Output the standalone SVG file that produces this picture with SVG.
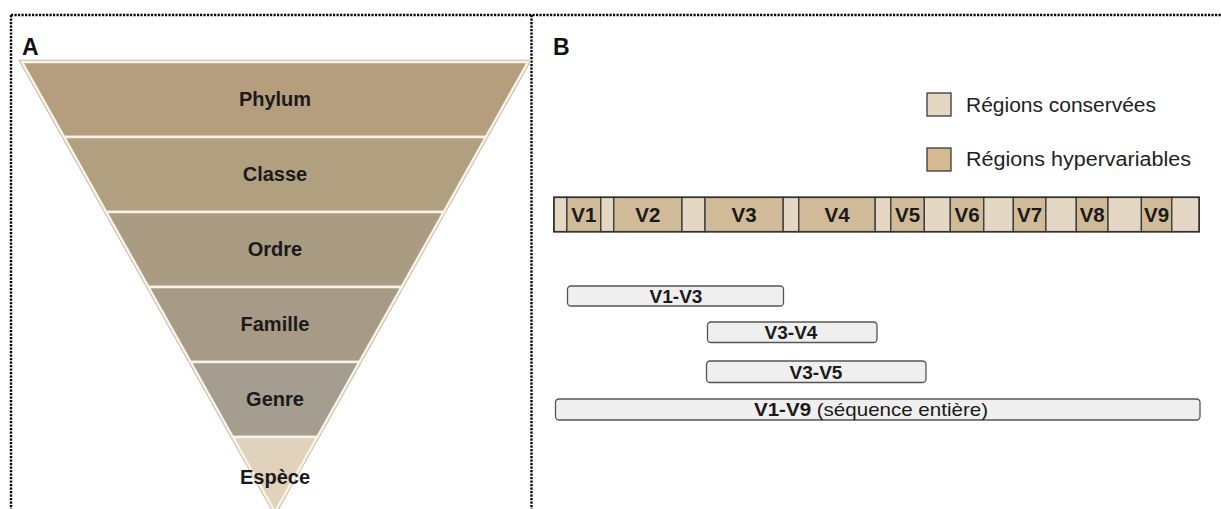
<svg xmlns="http://www.w3.org/2000/svg" width="1221" height="509" viewBox="0 0 1221 509">
<style>
.frame{fill:none;stroke:#000;stroke-width:2.4;stroke-dasharray:2.2 1.3}
.band{stroke:#f8f3e6;stroke-width:2.5;stroke-linejoin:miter}
.lbl{font-family:"Liberation Sans",Arial,sans-serif;font-weight:bold;font-size:20px;fill:#1a1a1a;text-anchor:middle}
.panel{font-family:"Liberation Sans",Arial,sans-serif;font-weight:bold;font-size:23px;fill:#111}
.cons{fill:#e4d7c4;stroke:#3a3a3a;stroke-width:1.3}
.hyp{fill:#d1ba97;stroke:#3a3a3a;stroke-width:1.3}
.vl{font-family:"Liberation Sans",Arial,sans-serif;font-weight:bold;font-size:20.5px;fill:#1a1a1a;text-anchor:middle}
.leg{font-family:"Liberation Sans",Arial,sans-serif;font-size:20px;fill:#222}
.pill{fill:#efefef;stroke:#555;stroke-width:1.3}
.pl{font-family:"Liberation Sans",Arial,sans-serif;font-weight:bold;font-size:19px;fill:#1a1a1a;text-anchor:middle}
</style>
<rect width="1221" height="509" fill="#fff"/>
<g id="frame">
<path class="frame" d="M11,15 H1221 M11,15 V509 M531.5,15 V509"/>
</g>
<text class="panel" x="22" y="55">A</text>
<text class="panel" x="553" y="55">B</text>

<g id="funnel">
<path d="M22,62 L528,62 L275,512 Z" fill="none" stroke="#c4bbad" stroke-width="4.5"/>
<g id="phylum"><path class="band" fill="#b59e7e" d="M22,62 H528 L485.8,137 H64.2 Z"/><text class="lbl" x="275" y="106">Phylum</text></g>
<g id="classe"><path class="band" fill="#b0a080" d="M64.2,137 H485.8 L443.7,212 H106.3 Z"/><text class="lbl" x="275" y="181">Classe</text></g>
<g id="ordre"><path class="band" fill="#aa9c83" d="M106.3,212 H443.7 L401.5,287 H148.5 Z"/><text class="lbl" x="275" y="256">Ordre</text></g>
<g id="famille"><path class="band" fill="#a79b87" d="M148.5,287 H401.5 L359.3,362 H190.7 Z"/><text class="lbl" x="275" y="331">Famille</text></g>
<g id="genre"><path class="band" fill="#a59d90" d="M190.7,362 H359.3 L317.2,437 H232.8 Z"/><text class="lbl" x="275" y="406">Genre</text></g>
<g id="espece"><path class="band" fill="#e0d2bb" d="M232.8,437 H317.2 L275,512 Z"/><text class="lbl" x="275" y="484">Espèce</text></g>
</g>

<g id="legend">
<g id="leg-cons"><rect class="cons" x="927" y="93" width="24" height="23"/><text class="leg" x="966" y="112" textLength="190" lengthAdjust="spacingAndGlyphs">Régions conservées</text></g>
<g id="leg-hyp"><rect x="927" y="148" width="24" height="23" fill="#d5b98f" stroke="#3a3a3a" stroke-width="1.3"/><text class="leg" x="966" y="166" textLength="225" lengthAdjust="spacingAndGlyphs">Régions hypervariables</text></g>
</g>

<g id="gene-bar">
<rect class="cons" x="553.9" y="197.3" width="13" height="34.4"/>
<g id="V1"><rect class="hyp" x="566.9" y="197.3" width="33.9" height="34.4"/><text class="vl" x="583.9" y="221.5">V1</text></g>
<rect class="cons" x="600.8" y="197.3" width="13" height="34.4"/>
<g id="V2"><rect class="hyp" x="613.8" y="197.3" width="68.2" height="34.4"/><text class="vl" x="647.9" y="221.5">V2</text></g>
<rect class="cons" x="682" y="197.3" width="23" height="34.4"/>
<g id="V3"><rect class="hyp" x="705" y="197.3" width="78.2" height="34.4"/><text class="vl" x="744.1" y="221.5">V3</text></g>
<rect class="cons" x="783.2" y="197.3" width="15.6" height="34.4"/>
<g id="V4"><rect class="hyp" x="798.8" y="197.3" width="76.4" height="34.4"/><text class="vl" x="837" y="221.5">V4</text></g>
<rect class="cons" x="875.2" y="197.3" width="15.6" height="34.4"/>
<g id="V5"><rect class="hyp" x="890.8" y="197.3" width="33.5" height="34.4"/><text class="vl" x="907.5" y="221.5">V5</text></g>
<rect class="cons" x="924.3" y="197.3" width="26" height="34.4"/>
<g id="V6"><rect class="hyp" x="950.3" y="197.3" width="33.5" height="34.4"/><text class="vl" x="967" y="221.5">V6</text></g>
<rect class="cons" x="983.8" y="197.3" width="29.5" height="34.4"/>
<g id="V7"><rect class="hyp" x="1013.3" y="197.3" width="32.6" height="34.4"/><text class="vl" x="1029.6" y="221.5">V7</text></g>
<rect class="cons" x="1045.9" y="197.3" width="30.4" height="34.4"/>
<g id="V8"><rect class="hyp" x="1076.3" y="197.3" width="31.7" height="34.4"/><text class="vl" x="1092.2" y="221.5">V8</text></g>
<rect class="cons" x="1108" y="197.3" width="33.4" height="34.4"/>
<g id="V9"><rect class="hyp" x="1141.4" y="197.3" width="30.4" height="34.4"/><text class="vl" x="1156.6" y="221.5">V9</text></g>
<rect class="cons" x="1171.8" y="197.3" width="27.4" height="34.4"/>
<rect x="553.9" y="197.3" width="645.3" height="34.4" fill="none" stroke="#333" stroke-width="1.6"/>
</g>

<g id="amplicons">
<g id="V1-V3"><rect class="pill" x="567.5" y="286" width="216" height="20" rx="3.5"/><text class="pl" x="676" y="303">V1-V3</text></g>
<g id="V3-V4"><rect class="pill" x="707.5" y="322" width="169.5" height="20.5" rx="3.5"/><text class="pl" x="791" y="339">V3-V4</text></g>
<g id="V3-V5"><rect class="pill" x="706.5" y="361" width="219.5" height="21.5" rx="3.5"/><text class="pl" x="816" y="379">V3-V5</text></g>
<g id="V1-V9"><rect class="pill" x="555.5" y="399" width="644.5" height="21" rx="3.5"/><text class="pl" x="871" y="416" textLength="234" lengthAdjust="spacingAndGlyphs">V1-V9<tspan font-weight="normal"> (séquence entière)</tspan></text></g>
</g>
</svg>
